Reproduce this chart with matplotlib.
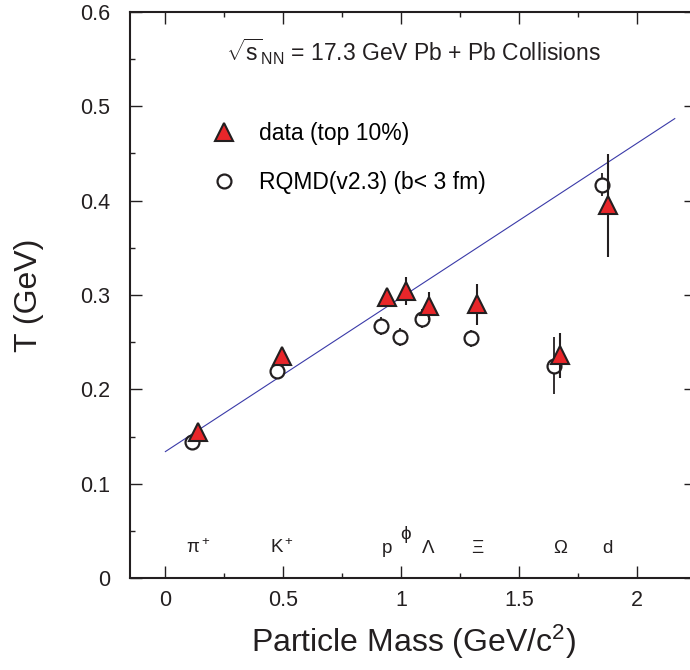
import numpy as np
import matplotlib
matplotlib.use('Agg')
import matplotlib.pyplot as plt

plt.rcParams['font.family'] = ['Liberation Sans', 'DejaVu Sans']
plt.rcParams['mathtext.fontset'] = 'custom'
plt.rcParams['mathtext.rm'] = 'Liberation Sans'
plt.rcParams['mathtext.it'] = 'Liberation Sans:italic'

# measured data (top 10% central)
data_mass = [0.140, 0.494, 0.938, 1.020, 1.116, 1.321, 1.672, 1.876]
data_T = [0.155, 0.235, 0.298, 0.304, 0.288, 0.290, 0.236, 0.395]
data_err = [0.0, 0.0, 0.0, 0.015, 0.015, 0.022, 0.024, 0.055]

# RQMD model points (drawn slightly left of the masses)
rqmd_mass = [0.113, 0.472, 0.914, 0.996, 1.090, 1.297, 1.648, 1.852]
rqmd_T = [0.1445, 0.219, 0.267, 0.255, 0.275, 0.254, 0.225, 0.417]
rqmd_err = [0.0, 0.0, 0.0095, 0.0095, 0.010, 0.009, 0.030, 0.012]

# linear trend line
line_mass = [0.0, 2.16]
line_T = [0.134, 0.487]

# particle labels along the bottom
part_labels = ['π$^+$', 'K$^+$', 'p', 'ϕ', 'Λ', 'Ξ', 'Ω', 'd']
part_mass = [0.140, 0.494, 0.938, 1.020, 1.116, 1.321, 1.672, 1.876]
part_y = [0.027, 0.027, 0.027, 0.041, 0.027, 0.027, 0.027, 0.027]

fig = plt.figure(figsize=(6.9, 6.7), dpi=100)
ax = fig.add_axes([130/690, 92/670, 566/690, 566/670])

ax.plot(line_mass, line_T, color='#3a3aa8', lw=0.8, zorder=1)

ax.errorbar(rqmd_mass, rqmd_T, yerr=rqmd_err, fmt='none', ecolor='#231f20',
            elinewidth=1.3, capsize=0, zorder=2)
rq, = ax.plot(rqmd_mass, rqmd_T, 'o', ms=10, mfc='white', mec='#231f20',
              mew=1.6, ls='none', zorder=3, label='RQMD(v2.3) (b< 3 fm)')

ax.errorbar(data_mass, data_T, yerr=data_err, fmt='none', ecolor='#231f20',
            elinewidth=1.5, capsize=0, zorder=4)
dt, = ax.plot(data_mass, data_T, '^', ms=12.5, mfc='#e8262a', mec='#231f20',
              mew=1.5, ls='none', zorder=5, label='data (top 10%)')

for lab, m, yy in zip(part_labels, part_mass, part_y):
    ax.text(m, yy, lab, ha='center', va='baseline', fontsize=13.5, color='#231f20')

ax.text(0.5, 0.929, r'$\sqrt{\mathrm{s}}_{\mathrm{NN}}$ = 17.3 GeV Pb + Pb Collisions',
        transform=ax.transAxes, ha='center', va='center', fontsize=16.5,
        color='#231f20')

ax.legend(handles=[dt, rq], loc='upper left', bbox_to_anchor=(0.145, 0.806),
          frameon=False, fontsize=16.5, handlelength=1.0, handletextpad=1.05,
          borderpad=0, borderaxespad=0, labelspacing=1.15, numpoints=1)

ax.set_xlim(-0.15, 2.25)
ax.set_ylim(0, 0.6)
ax.set_xticks([0, 0.5, 1, 1.5, 2])
ax.set_xticklabels(['0', '0.5', '1', '1.5', '2'])
ax.set_xticks(np.arange(0.25, 2.25, 0.5), minor=True)
ax.set_yticks(np.arange(0, 0.61, 0.1))
ax.set_yticklabels(['0', '0.1', '0.2', '0.3', '0.4', '0.5', '0.6'])
ax.set_yticks(np.arange(0.05, 0.6, 0.1), minor=True)

ax.tick_params(which='both', direction='in', top=True, right=True,
               colors='#231f20', labelsize=15.5)
ax.tick_params(which='major', length=8.5, width=1.0)
ax.tick_params(which='minor', length=3.8, width=1.0)
ax.tick_params(axis='x', pad=9)
ax.tick_params(axis='y', pad=14)
for s in ax.spines.values():
    s.set_linewidth(1.5)
    s.set_color('#231f20')

ax.set_xlabel('Particle Mass (GeV/c$^2$)', fontsize=23, labelpad=8, color='#231f20')
ax.set_ylabel('T (GeV)', fontsize=23, labelpad=26, color='#231f20')

fig.savefig('out.png', dpi=100)
